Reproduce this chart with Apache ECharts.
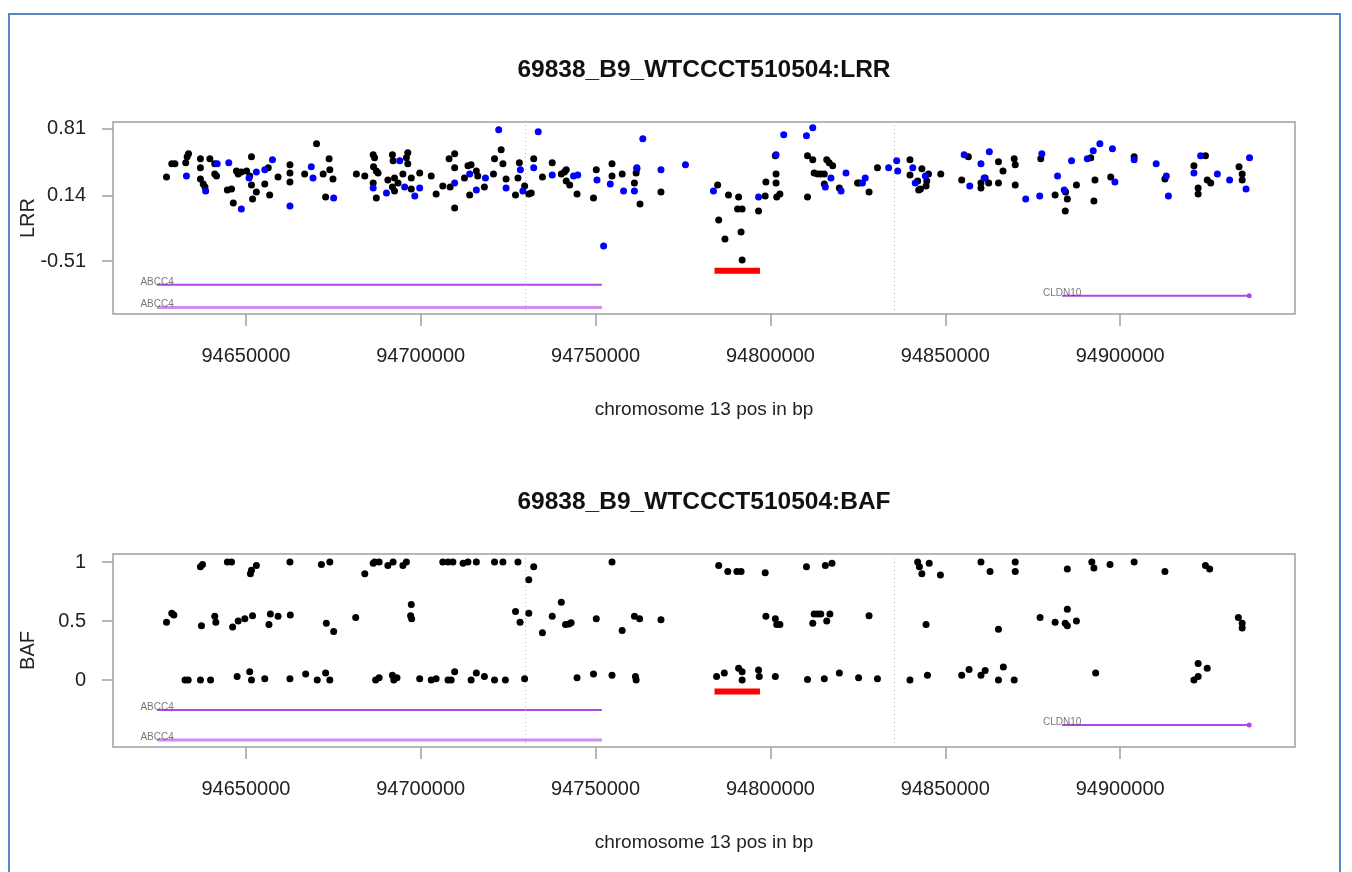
<!DOCTYPE html>
<html><head><meta charset="utf-8">
<script src="https://cdn.jsdelivr.net/npm/echarts@6/dist/echarts.min.js"></script>
<style>html,body{margin:0;padding:0;background:#fff}#c{width:1352px;height:872px}</style>
</head><body><div id="c"></div>
<script>
// ---------------- DATA ----------------
const sampleName = '69838_B9_WTCCCT510504';
const xAxisTitle = 'chromosome 13 pos in bp';
const xTicks = [94650000, 94700000, 94750000, 94800000, 94850000, 94900000];
const lrrTicks = [0.81, 0.14, -0.51];
const bafTicks = [0, 0.5, 1];

// LRR, SNP probes (black) [position, LRR]
const lrrSnp = [
[94627300,0.33],[94628800,0.46],[94629700,0.46],[94632800,0.47],[94633200,0.53],[94633600,0.56],
[94637000,0.51],[94637000,0.42],[94637000,0.31],[94637800,0.26],[94638300,0.23],[94639700,0.51],
[94641100,0.46],[94641100,0.36],[94641600,0.34],[94644700,0.20],[94645900,0.21],[94646400,0.07],
[94647300,0.39],[94647800,0.36],[94648700,0.38],[94650200,0.39],[94651100,0.34],[94651600,0.53],
[94651600,0.25],[94651900,0.11],[94653000,0.18],[94655400,0.26],[94656400,0.42],[94656800,0.15],
[94659200,0.33],[94662600,0.45],[94662600,0.37],[94662600,0.28],[94666800,0.36],[94670200,0.66],
[94672100,0.36],[94672800,0.13],[94673800,0.51],[94674000,0.40],[94674900,0.31],[94681600,0.36],
[94684000,0.34],[94686400,0.55],[94686800,0.52],[94686400,0.27],[94686500,0.43],[94687300,0.39],
[94687800,0.37],[94687300,0.12],[94690600,0.30],[94691900,0.55],[94692100,0.49],[94692500,0.32],
[94691900,0.23],[94692500,0.19],[94693500,0.27],[94694900,0.36],[94695900,0.52],[94696300,0.57],
[94696300,0.46],[94697300,0.32],[94697300,0.21],[94699700,0.37],[94703000,0.34],[94704400,0.16],
[94706300,0.24],[94708100,0.51],[94708400,0.23],[94709700,0.56],[94709700,0.42],[94709700,0.02],
[94712500,0.32],[94713500,0.44],[94714400,0.45],[94714000,0.15],[94715900,0.39],[94716300,0.34],
[94718200,0.23],[94721100,0.51],[94720800,0.36],[94723000,0.60],[94723500,0.46],[94724400,0.31],
[94727100,0.15],[94727800,0.32],[94728200,0.47],[94729700,0.24],[94730900,0.16],
[94732300,0.51],[94731600,0.17],[94734800,0.33],[94737600,0.47],[94740200,0.36],[94741100,0.38],
[94741600,0.40],[94741600,0.29],[94742600,0.25],[94744700,0.16],[94749400,0.12],[94750200,0.40],
[94754700,0.46],[94754700,0.34],[94757600,0.36],[94761100,0.27],[94761600,0.37],[94761800,0.41],
[94762700,0.06],[94768700,0.18],[94784900,0.25],[94785200,-0.10],[94787000,-0.29],[94788000,0.15],
[94790900,0.13],[94790600,0.01],[94791900,0.01],[94791600,-0.22],[94791900,-0.50],[94796600,-0.01],
[94798500,0.14],[94798700,0.28],[94801600,0.36],[94801600,0.27],[94801400,0.54],[94801800,0.13],
[94802700,0.16],[94810600,0.13],[94810600,0.54],[94812100,0.50],[94812500,0.37],[94813500,0.36],
[94814400,0.36],[94815400,0.36],[94815400,0.26],[94816100,0.50],[94816800,0.47],[94817800,0.44],
[94819700,0.22],[94824900,0.27],[94825400,0.27],[94828200,0.18],[94830600,0.42],
[94839900,0.50],[94839900,0.35],[94842100,0.29],[94842400,0.20],[94843300,0.41],[94844500,0.24],
[94844700,0.29],[94842900,0.21],[94845200,0.36],[94848700,0.36],[94854700,0.30],[94856600,0.53],
[94860200,0.22],[94860200,0.27],[94861400,0.32],[94862400,0.27],[94865200,0.48],[94865200,0.27],
[94866500,0.39],[94869700,0.51],[94870000,0.45],[94870000,0.25],[94877300,0.51],[94881400,0.15],
[94884400,0.18],[94884900,0.11],[94884300,-0.01],[94887500,0.25],[94891600,0.52],[94892800,0.30],
[94892500,0.09],[94897300,0.33],[94904000,0.53],[94912800,0.31],[94921100,0.44],[94922300,0.22],
[94922300,0.16],[94924400,0.54],[94924900,0.30],[94925900,0.27],[94934000,0.43],[94934900,0.36],
[94934900,0.30]
];

// LRR, CN probes (blue) [position, LRR]
const lrrCn = [
[94633000,0.34],[94638500,0.19],[94641800,0.46],[94645100,0.47],[94648700,0.01],[94650900,0.32],
[94653000,0.38],[94655400,0.40],[94657600,0.50],[94662600,0.04],[94668700,0.43],[94669200,0.32],
[94675100,0.12],[94686400,0.22],[94690200,0.17],[94694000,0.49],[94695400,0.23],[94698300,0.14],
[94699700,0.22],[94709700,0.27],[94714000,0.36],[94715900,0.20],[94718500,0.32],[94722300,0.80],
[94724400,0.22],[94728500,0.40],[94729200,0.19],
[94733600,0.78],[94732300,0.42],[94737600,0.35],[94743700,0.34],[94744900,0.35],[94750400,0.30],
[94752300,-0.36],[94754200,0.26],[94758000,0.19],[94761100,0.19],[94761800,0.42],[94763500,0.71],
[94768700,0.40],[94775700,0.45],[94783700,0.19],[94796600,0.13],[94801600,0.55],[94803800,0.75],
[94810300,0.74],[94812100,0.82],[94815700,0.23],[94817300,0.32],[94820200,0.19],[94821600,0.37],
[94827100,0.32],[94826300,0.27],
[94833800,0.42],[94836100,0.49],[94836400,0.39],[94840700,0.42],[94841400,0.27],[94844300,0.34],
[94855400,0.55],[94857000,0.24],[94860200,0.46],[94861100,0.32],[94862600,0.58],[94873000,0.11],
[94877000,0.14],[94877600,0.56],[94882100,0.34],[94884000,0.20],[94886100,0.49],[94890600,0.51],
[94892300,0.59],[94894200,0.66],[94897800,0.61],[94898500,0.28],[94904000,0.50],[94910300,0.46],
[94913200,0.34],[94913800,0.14],[94921100,0.37],[94923000,0.54],[94927800,0.36],[94931300,0.30],
[94936000,0.21],[94937000,0.52]
];

// BAF [position, BAF]
const baf = [
[94637000,0.96],[94637600,0.98],[94644700,1.00],[94645900,1.00],[94651300,0.90],[94651600,0.93],
[94653000,0.97],[94662600,1.00],[94671600,0.98],[94674000,1.00],[94684000,0.90],[94686400,0.99],
[94686800,1.00],[94688100,1.00],[94690600,0.97],[94692100,1.00],[94694900,0.97],[94695900,1.00],
[94706300,1.00],[94707800,1.00],[94709200,1.00],[94712100,0.99],[94713500,1.00],[94715900,1.00],
[94721100,1.00],[94723500,1.00],[94727800,1.00],[94730900,0.85],
[94627300,0.49],[94628800,0.565],[94629400,0.55],[94637300,0.46],[94641100,0.54],[94641400,0.49],
[94646200,0.45],[94647800,0.50],[94649700,0.52],[94651900,0.545],[94656600,0.47],[94657000,0.56],
[94659200,0.54],[94662700,0.55],[94673000,0.48],[94675100,0.41],[94681400,0.53],[94697300,0.64],
[94697100,0.545],[94697400,0.52],[94727100,0.58],[94728400,0.49],[94730900,0.565],
[94632600,0.00],[94633500,0.00],[94637000,0.00],[94639900,0.00],[94647500,0.03],[94651100,0.07],
[94651600,0.00],[94655400,0.01],[94662600,0.01],[94667100,0.05],[94670400,0.00],[94672800,0.06],
[94674000,0.00],[94687100,0.00],[94688100,0.02],[94691900,0.04],[94692300,0.00],[94693200,0.02],
[94699700,0.01],[94703000,0.00],[94704400,0.01],[94707800,0.00],[94708700,0.00],[94709700,0.07],
[94714400,0.00],[94715900,0.06],[94718200,0.03],[94721100,0.00],[94724200,0.00],[94729700,0.01],
[94754700,1.00],[94732300,0.96],[94785200,0.97],[94787800,0.92],[94790400,0.92],[94791600,0.92],
[94798500,0.91],[94810300,0.96],[94815700,0.97],[94817600,0.99],
[94740200,0.66],[94734800,0.40],[94737600,0.54],[94741400,0.47],[94742400,0.475],[94743000,0.485],
[94750200,0.52],[94757600,0.42],[94761100,0.54],[94762600,0.52],[94768700,0.51],[94798700,0.54],
[94801400,0.52],[94801800,0.47],[94802700,0.47],[94812100,0.48],[94812500,0.56],[94813500,0.56],
[94814400,0.56],[94816100,0.50],[94817000,0.56],[94828200,0.545],
[94744700,0.02],[94749400,0.05],[94754700,0.04],[94761400,0.03],[94761600,0.00],[94784600,0.03],
[94786800,0.06],[94790900,0.10],[94791900,0.07],[94791900,0.00],[94796600,0.085],[94796800,0.03],
[94801400,0.03],[94810600,0.005],[94815400,0.01],[94819700,0.06],[94825200,0.02],[94830600,0.01],
[94839900,0.00],
[94842100,1.00],[94842600,0.96],[94843300,0.90],[94845400,0.99],[94848600,0.89],[94860200,1.00],
[94862800,0.92],[94870000,1.00],[94870000,0.92],[94884900,0.94],[94891900,1.00],[94892500,0.95],
[94897100,0.98],[94904000,1.00],[94912800,0.92],[94924400,0.97],[94925600,0.94],
[94844500,0.47],[94865200,0.43],[94877100,0.53],[94881400,0.49],[94884300,0.48],[94884900,0.60],
[94884900,0.46],[94887500,0.50],[94933800,0.53],[94934900,0.48],[94934900,0.44],
[94844900,0.04],[94854700,0.04],[94856800,0.09],[94860200,0.04],[94861400,0.08],[94865200,0.00],
[94866600,0.11],[94869700,0.00],[94893000,0.06],[94921100,0.00],[94922300,0.03],[94922300,0.14],
[94924900,0.10]
];

// Gene annotation
const geneNames = ['ABCC4', 'ABCC4', 'CLDN10'];
const geneStart = [94624600, 94624600, 94883400];
const geneEnd   = [94751800, 94751800, 94936900];
// CNV call (red bar)
const cnvStart = 94784000;
const cnvEnd = 94797000;
// dotted reference positions
const markerPos = [94730000, 94835400];

// ---------------- LAYOUT / STYLE ----------------
const FONT = 'Liberation Sans, Arial, Helvetica, sans-serif';
const X_MIN = 94612000, X_MAX = 94950000;
const panels = [
  {name: 'LRR', top: 122, height: 192, ymin: -1.039, ymax: 0.878, ticks: lrrTicks,
   geneLevels: [-0.747, -0.973, -0.857], cnvLevel: -0.608, titleY: 70},
  {name: 'BAF', top: 554, height: 193, ymin: -0.568, ymax: 1.068, ticks: bafTicks,
   geneLevels: [-0.254, -0.508, -0.381], cnvLevel: -0.097, titleY: 502}
];
const geneColors = ['#b246e8', '#d08ef0', '#b246e8'];
const geneWidths = [2, 3, 2];

const grids = [], xAxes = [], yAxes = [], series = [], graphics = [];

graphics.push({type: 'rect', shape: {x: 9, y: 14, width: 1331, height: 900},
  style: {fill: 'none', stroke: '#5b87c9', lineWidth: 2}, z: 0});

panels.forEach((p, i) => {
  grids.push({left: 113, top: p.top, width: 1182, height: p.height, show: true,
    borderColor: '#a0a0a0', borderWidth: 1.5, backgroundColor: 'transparent'});
  xAxes.push({type: 'value', gridIndex: i, min: X_MIN, max: X_MAX,
    name: xAxisTitle, nameLocation: 'middle', nameGap: 86, nameMoveOverlap: false,
    nameTextStyle: {fontFamily: FONT, fontSize: 19, color: '#222'},
    axisLine: {show: false, onZero: false}, splitLine: {show: false},
    axisTick: {show: true, inside: false, length: 12, customValues: xTicks,
      lineStyle: {color: '#a0a0a0', width: 1.5}},
    axisLabel: {customValues: xTicks, margin: 32, fontFamily: FONT, fontSize: 20, color: '#222',
      formatter: v => String(v)}});
  yAxes.push({type: 'value', gridIndex: i, min: p.ymin, max: p.ymax,
    name: p.name, nameLocation: 'middle', nameGap: 75, nameMoveOverlap: false,
    nameTextStyle: {fontFamily: FONT, fontSize: 20, color: '#222'},
    axisLine: {show: false, onZero: false}, splitLine: {show: false},
    axisTick: {show: true, inside: false, length: 11, customValues: p.ticks,
      lineStyle: {color: '#a0a0a0', width: 1.5}},
    axisLabel: {customValues: p.ticks, margin: 27, fontFamily: FONT, fontSize: 20, color: '#222',
      formatter: v => String(v)}});

  graphics.push({type: 'text', x: 704, y: p.titleY,
    style: {text: sampleName + ':' + p.name, font: 'bold 24.5px ' + FONT, fill: '#111',
      align: 'center', verticalAlign: 'middle'}});

  // dotted reference lines
  series.push({type: 'line', xAxisIndex: i, yAxisIndex: i, data: [], silent: true,
    markLine: {silent: true, symbol: ['none', 'none'], label: {show: false},
      lineStyle: {type: [1, 3], color: '#b8b8b8', width: 1},
      data: markerPos.map(v => ({xAxis: v}))}});

  // genes
  geneNames.forEach((g, k) => {
    const endItem = k === 2
      ? {value: [geneEnd[k], p.geneLevels[k]], symbol: 'circle', symbolSize: 5}
      : {value: [geneEnd[k], p.geneLevels[k]], symbol: 'none'};
    series.push({type: 'line', xAxisIndex: i, yAxisIndex: i, silent: true, z: 3,
      showSymbol: true, symbol: 'none',
      itemStyle: {color: geneColors[k]},
      lineStyle: {color: geneColors[k], width: geneWidths[k]},
      data: [{value: [geneStart[k], p.geneLevels[k]], symbol: 'none'}, endItem]});
  });
  series.push({type: 'scatter', xAxisIndex: i, yAxisIndex: i, silent: true, z: 4,
    symbolSize: 0.1, itemStyle: {color: 'rgba(0,0,0,0)'},
    label: {show: true, position: 'inside', offset: [0, -3], formatter: d => d.name,
      fontFamily: FONT, fontSize: 10, color: '#555'},
    data: geneNames.map((g, k) => ({name: g, value: [geneStart[k], p.geneLevels[k]]}))});

  // CNV bar
  series.push({type: 'line', xAxisIndex: i, yAxisIndex: i, silent: true, symbol: 'none', z: 3,
    lineStyle: {color: '#ff0000', width: 6, cap: 'butt'},
    data: [[cnvStart, p.cnvLevel], [cnvEnd, p.cnvLevel]]});
});

series.push({type: 'scatter', xAxisIndex: 0, yAxisIndex: 0, symbolSize: 7, z: 5,
  itemStyle: {color: '#000000', opacity: 1}, data: lrrSnp});
series.push({type: 'scatter', xAxisIndex: 0, yAxisIndex: 0, symbolSize: 7, z: 6,
  itemStyle: {color: '#0000ff', opacity: 1}, data: lrrCn});
series.push({type: 'scatter', xAxisIndex: 1, yAxisIndex: 1, symbolSize: 7, z: 5,
  itemStyle: {color: '#000000', opacity: 1}, data: baf});

const chart = echarts.init(document.getElementById('c'), null, {renderer: 'canvas'});
chart.setOption({
  animation: false,
  backgroundColor: '#ffffff',
  grid: grids, xAxis: xAxes, yAxis: yAxes, series: series, graphic: graphics
});
</script></body></html>
